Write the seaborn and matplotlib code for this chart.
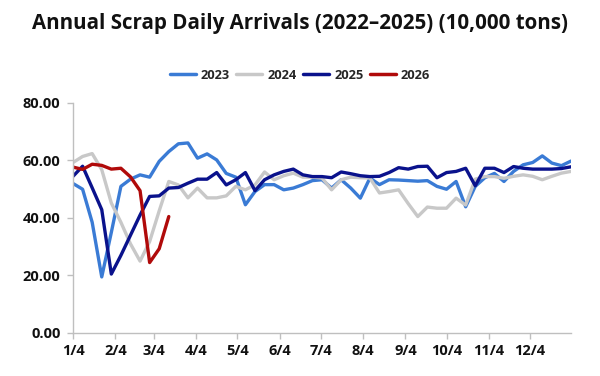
import matplotlib
matplotlib.use("Agg")
import matplotlib.pyplot as plt
import matplotlib.ticker as mticker
import matplotlib.dates as mdates
import seaborn as sns
import pandas as pd
import numpy as np

# weekly readings, all years mapped onto one calendar (Jan 4 start)
semanas = pd.date_range("2021-01-04", periods=53, freq="7D")

v2023 = [52, 50, 38.5, 19.5, 35, 51, 53.5, 55, 54.2, 59.7, 63.1, 65.8, 66.1, 60.8,
         62.3, 60.2, 55.5, 54.2, 44.6, 49.2, 51.6, 51.6, 49.8, 50.4, 51.6, 53, 53.3,
         50.4, 53.3, 50.4, 46.9, 53.9, 51.6, 53.3, 53.2, 53, 52.8, 53, 51, 50, 52.7,
         43.9, 51, 54, 55.5, 52.7, 56.2, 58.5, 59.3, 61.6, 59.1, 58.2, 59.8]
v2024 = [59.3, 61.4, 62.4, 56.8, 45.2, 38.5, 31, 25, 31.8, 42.5, 52.7, 51.5, 47,
         50.4, 47, 47, 47.7, 51, 49.8, 51.5, 56, 53.3, 54.7, 55.6, 54.2, 54.2, 53.9,
         49.8, 53.3, 54.2, 54, 53.9, 48.7, 49.2, 49.8, 45, 40.5, 43.8, 43.4, 43.4,
         46.9, 44.5, 53.5, 54.4, 54.4, 53.8, 54.5, 55, 54.5, 53.3, 54.5, 55.6, 56.2]
v2025 = [54.5, 58, 50.5, 42.9, 20.5, 27, 34, 41, 47.5, 47.7, 50.4, 50.6, 52.1, 53.5,
         53.5, 55.8, 51.5, 53.3, 55.8, 49.5, 53.3, 55, 56.2, 57, 55, 54.4, 54.4, 54,
         56, 55.4, 54.7, 54.4, 54.5, 55.8, 57.5, 57, 57.9, 58, 54, 55.8, 56.2, 57.3,
         51.2, 57.3, 57.3, 55.8, 57.9, 57.3, 57, 57, 57, 57.2, 57.8]
v2026 = [57.7, 56.9, 58.7, 58.3, 57, 57.3, 54.3, 49.5, 24.5, 29.3, 40.5]

anios = ["2023", "2024", "2025", "2026"]
colores = ["#3a7bd5", "#c8c8c8", "#0a128c", "#b00a0a"]
series = [v2023, v2024, v2025, v2026]

df = pd.concat(
    [pd.DataFrame({"fecha": semanas[:len(v)], "valor": v, "anio": a})
     for a, v in zip(anios, series)],
    ignore_index=True,
)

sns.set_theme(style="white")
plt.rcParams["font.family"] = ["Open Sans", "DejaVu Sans"]

fig = plt.figure(figsize=(6, 3.76), dpi=100)
ax = fig.add_axes([0.1217, 0.1144, 0.83, 0.6117])

sns.lineplot(data=df, x="fecha", y="valor", hue="anio", hue_order=anios,
             palette=dict(zip(anios, colores)), linewidth=2.4, ax=ax, legend=False)

ax.set_ylim(0, 80)
ax.set_xlim(pd.Timestamp("2021-01-04"), pd.Timestamp("2022-01-03"))
ax.yaxis.set_major_locator(mticker.MultipleLocator(20))
ax.yaxis.set_major_formatter(mticker.FuncFormatter(lambda v, p: f"{v:.2f}"))
ax.xaxis.set_major_locator(mdates.MonthLocator(bymonthday=4))
ax.xaxis.set_major_formatter(mticker.FuncFormatter(
    lambda v, p: f"{mdates.num2date(v).month}/{mdates.num2date(v).day}"))

ax.set_xlabel("")
ax.set_ylabel("")
for s in ["top", "right"]:
    ax.spines[s].set_visible(False)
for s in ["left", "bottom"]:
    ax.spines[s].set_color("#bfbfbf")
    ax.spines[s].set_linewidth(1)
ax.tick_params(axis="both", which="major", length=4, width=1, color="#bfbfbf",
               labelsize=10.5, labelcolor="#111111", pad=4)
ax.tick_params(axis="x", direction="out", bottom=True)
ax.tick_params(axis="y", direction="out", left=True, pad=5)
for lab in ax.get_xticklabels() + ax.get_yticklabels():
    lab.set_fontweight("bold")

fig.suptitle("Annual Scrap Daily Arrivals (2022\u20132025) (10,000 tons)",
             x=0.5, y=0.965, fontsize=14.8, fontweight="bold", color="#111111")

handles = [plt.Line2D([0], [0], color=c, lw=2.5) for c in colores]
fig.legend(handles, anios, loc="center", bbox_to_anchor=(0.5, 0.80), ncol=4,
           frameon=False, handlelength=2.0, handletextpad=0.4, columnspacing=0.5,
           prop={"weight": "bold", "size": 9.3})

fig.savefig("out.png", dpi=100)
